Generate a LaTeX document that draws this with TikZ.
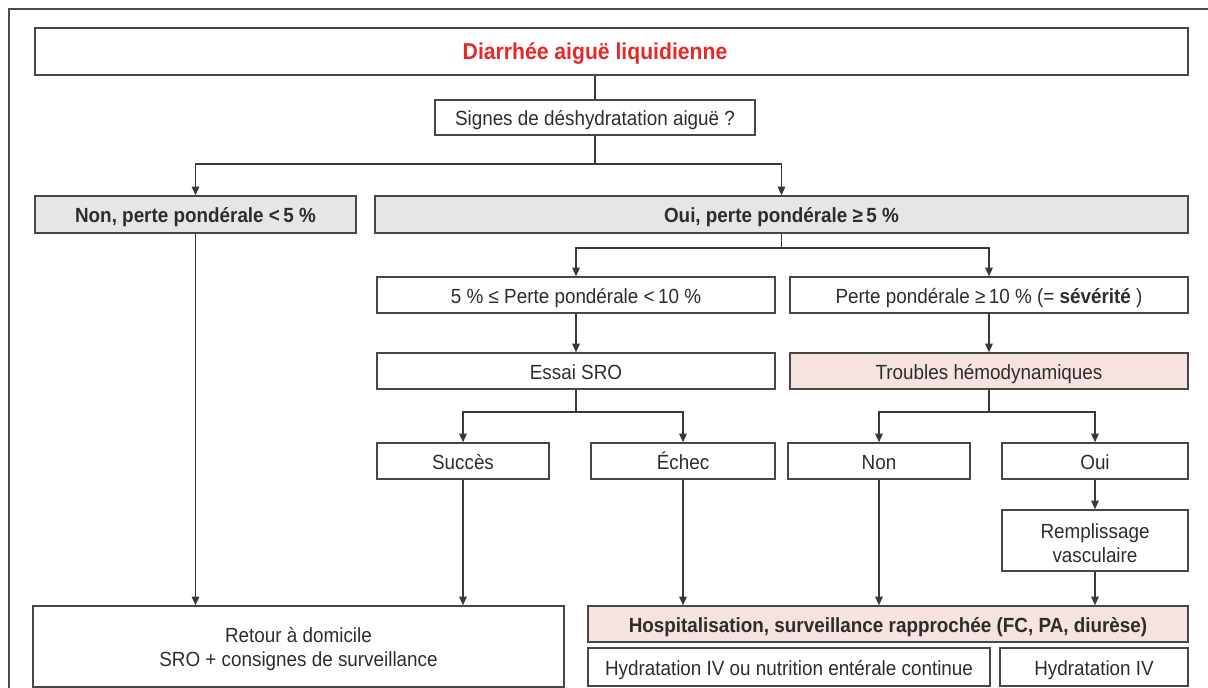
\documentclass[tikz,border=0pt]{standalone}
\usepackage{fontspec}
\setmainfont[FakeStretch=0.92]{Liberation Sans}
\usetikzlibrary{arrows.meta}
\definecolor{boxgray}{RGB}{230,230,230}
\definecolor{boxpink}{RGB}{246,226,222}
\definecolor{titlered}{RGB}{232,40,40}
\definecolor{ink}{RGB}{45,45,45}
\tikzset{
  box/.style={draw=black!72, line width=1.6pt, rectangle, inner sep=0pt, text=ink,
    font=\fontsize{20.5}{23}\selectfont, align=center, text height=17pt, text depth=1pt},
  graybox/.style={box, fill=boxgray, font=\fontsize{20.5}{23}\selectfont\bfseries},
  pinkbox/.style={box, fill=boxpink},
  txt/.style={text=ink, inner sep=0pt, align=center},
  conn/.style={draw=black!78, line width=1.3pt},
  arr/.style={conn, -{Triangle[length=8.5pt,width=7.5pt]}},
}
\begin{document}
\begin{tikzpicture}[x=1pt,y=-1pt]
\useasboundingbox (0,0) rectangle (1208,688);
% outer frame
\coordinate (fa) at (9,688);
\coordinate (fb) at (9,9);
\coordinate (fc) at (1208,9);
\draw[draw=black!70, line width=1.4pt] (fa) -- (fb) -- (fc);

\node[box, minimum width=1153, minimum height=47] (title) at (611.5,51.5) {};
\node[text=titlered, font=\fontsize{23}{26}\selectfont\bfseries, inner sep=0pt, anchor=base] (titletext) at (595,59) {Diarrhée aiguë liquidienne};
\node[box, minimum width=320, minimum height=35] (signes) at (595,117.5) {Signes de déshydratation aiguë ?};
\node[graybox, minimum width=321, minimum height=37] (non) at (195.5,214.5) {Non, perte pondérale <\,5 \%};
\node[graybox, minimum width=813, minimum height=37] (oui) at (781.5,214.5) {Oui, perte pondérale ≥\,5 \%};
\node[box, minimum width=398, minimum height=36] (pct) at (576,295) {5 \% ≤ Perte pondérale <\,10 \%};
\node[box, minimum width=398, minimum height=36] (perte) at (989,295) {Perte pondérale ≥\,10 \% (= \textbf{sévérité} )};
\node[box, minimum width=398, minimum height=36] (essai) at (576,371) {Essai SRO};
\node[pinkbox, minimum width=398, minimum height=36] (troubles) at (989,371) {Troubles hémodynamiques};
\node[box, minimum width=172, minimum height=36] (succes) at (463,461) {Succès};
\node[box, minimum width=184, minimum height=36] (echec) at (683,461) {Échec};
\node[box, minimum width=182, minimum height=36] (non2) at (879,461) {Non};
\node[box, minimum width=186, minimum height=36] (oui2) at (1095,461) {Oui};
\node[box, minimum width=186, minimum height=61] (rempl) at (1095,540.5) {};
\node[txt, font=\fontsize{20.5}{23.5}\selectfont] (rempltxt) at (1095,543) {Remplissage\\vasculaire};
\node[box, minimum width=531, minimum height=81] (retour) at (298.5,646.5) {};
\node[txt, font=\fontsize{20.5}{23.5}\selectfont] (retourtxt) at (298.5,649) {Retour à domicile\\SRO + consignes de surveillance};
\node[pinkbox, minimum width=600, minimum height=36, font=\fontsize{20.5}{23}\selectfont\bfseries] (hosp) at (888,624) {Hospitalisation, surveillance rapprochée (FC, PA, diurèse)};
\node[box, minimum width=402, minimum height=38] (hydou) at (789,667) {Hydratation IV ou nutrition entérale continue};
\node[box, minimum width=188, minimum height=38] (hydiv) at (1094,667) {Hydratation IV};

% connectors
\draw[conn] (signes.north |- title.south) -- (signes.north);
\coordinate (j1) at (595,164);
\draw[conn] (signes.south) -- (j1);
\draw[arr] (j1) -| (non.north);
\draw[arr] (j1) -| (oui.north);

\coordinate (j2) at (781.5,248);
\draw[conn] (oui.south) -- (j2);
\draw[arr] (j2) -| (pct.north);
\draw[arr] (j2) -| (perte.north);

\draw[arr] (pct.south) -- (essai.north);
\draw[arr] (perte.south) -- (troubles.north);

\coordinate (j3) at (576,412);
\draw[conn] (essai.south) -- (j3);
\draw[arr] (j3) -| (succes.north);
\draw[arr] (j3) -| (echec.north);

\coordinate (j4) at (989,412);
\draw[conn] (troubles.south) -- (j4);
\draw[arr] (j4) -| (non2.north);
\draw[arr] (j4) -| (oui2.north);

\draw[arr] (oui2.south) -- (rempl.north);

\draw[arr] (non.south) -- (non.south |- retour.north);
\draw[arr] (succes.south) -- (succes.south |- retour.north);
\draw[arr] (echec.south) -- (echec.south |- hosp.north);
\draw[arr] (non2.south) -- (non2.south |- hosp.north);
\draw[arr] (rempl.south) -- (rempl.south |- hosp.north);
\end{tikzpicture}
\end{document}
